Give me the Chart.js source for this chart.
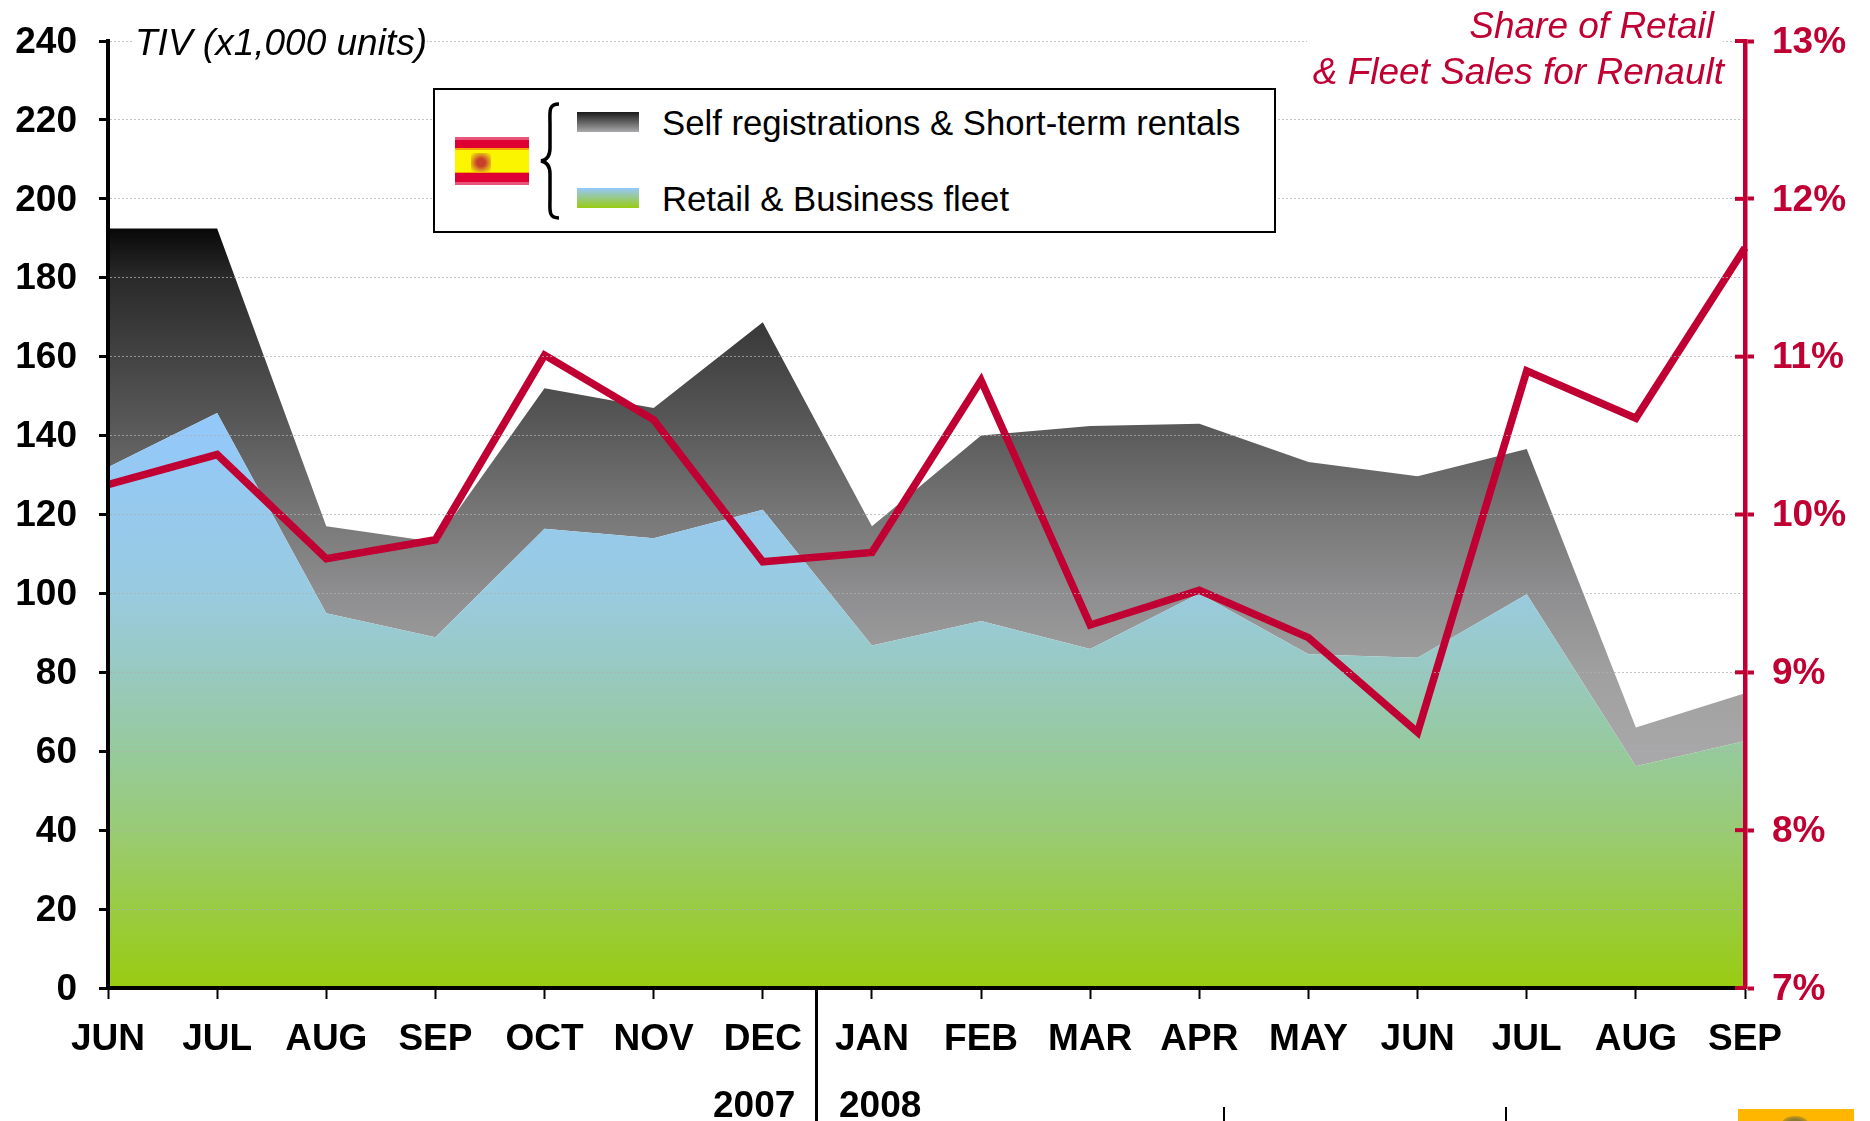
<!DOCTYPE html>
<html><head><meta charset="utf-8">
<script src="https://cdn.jsdelivr.net/npm/chart.js@4/dist/chart.umd.min.js"></script>
<style>
html,body{margin:0;padding:0;background:#fff;width:1870px;height:1121px;overflow:hidden}
body{position:relative;font-family:"Liberation Sans",Arial,sans-serif}
canvas{position:absolute;left:0;top:0}
.a{position:absolute;white-space:nowrap;line-height:1}
</style></head><body>
<canvas id="c" width="1870" height="1121"></canvas>

<div class="a" style="left:133px;top:20px;width:294px;height:40px;background:#fff"></div>
<div class="a" style="left:135px;top:22px;font:italic 37px 'Liberation Sans'">TIV (x1,000 units)</div>

<div class="a" style="left:1307px;top:0;width:416px;height:92px;background:#fff"></div>
<div class="a" style="right:156px;top:5px;font:italic 37px 'Liberation Sans';color:#C00033">Share of Retail</div>
<div class="a" style="right:146px;top:51px;font:italic 37px 'Liberation Sans';color:#C00033">&amp; Fleet Sales for Renault</div>

<div class="a" style="left:433px;top:88px;width:843px;height:145px;box-sizing:border-box;border:2px solid #000;background:#fff"></div>
<div class="a" style="left:455px;top:137px;width:74px;height:48px;background:linear-gradient(#e8547a 0 3px,#de0033 3px 11px,#f5a300 11px 13px,#fbf500 13px 35px,#f5a300 35px 36px,#de0033 36px 45px,#e8547a 45px)"></div>
<div class="a" style="left:471px;top:153px;width:20px;height:19px;background:radial-gradient(ellipse at center,#c9402a 0 30%,#dd9a20 60%,#fbf500 95%)"></div>
<svg class="a" style="left:538px;top:102px" width="24" height="118" viewBox="0 0 24 118"><path d="M21 2 C10 2 12 10 12 22 L12 46 C12 54 9 58 3 59 C9 60 12 64 12 72 L12 96 C12 108 10 116 21 116" fill="none" stroke="#000" stroke-width="3.5"/></svg>
<div class="a" style="left:577px;top:112px;width:62px;height:20px;background:linear-gradient(#1a1a1a,#a9a9ab)"></div>
<div class="a" style="left:577px;top:188px;width:62px;height:20px;background:linear-gradient(#96c8fb,#99cc10)"></div>
<div class="a" style="left:662px;top:104px;font:34.7px 'Liberation Sans';color:#000">Self registrations &amp; Short-term rentals</div>
<div class="a" style="left:662px;top:180px;font:34.7px 'Liberation Sans';color:#000">Retail &amp; Business fleet</div>

<div class="a" style="left:815px;top:988px;width:3px;height:133px;background:#000"></div>
<div class="a" style="left:713px;top:1084px;font:bold 37px 'Liberation Sans'">2007</div>
<div class="a" style="left:839px;top:1084px;font:bold 37px 'Liberation Sans'">2008</div>
<div class="a" style="left:1223px;top:1107px;width:2px;height:14px;background:#000"></div>
<div class="a" style="left:1505px;top:1107px;width:2px;height:14px;background:#000"></div>
<div class="a" style="left:1738px;top:1109px;width:116px;height:12px;background:#ffb600;overflow:hidden"><div style="position:absolute;left:44px;top:7px;width:26px;height:14px;border-radius:50%;background:radial-gradient(ellipse at center,#8a7a30 0 35%,#ffb600 100%)"></div></div>

<script>
const months = ['JUN','JUL','AUG','SEP','OCT','NOV','DEC','JAN','FEB','MAR','APR','MAY','JUN','JUL','AUG','SEP'];
const retailBusiness = [132,145.7,95,88.9,116.4,114,121.2,86.8,93,85.9,100,84.6,83.7,99.8,56.2,62.6];
const selfRegistrations = [60.5,46.8,22,24.1,35.6,33,47.5,30.2,47,56.5,43,48.7,46,36.8,9.8,12.1];
const renaultShare = [10.19,10.38,9.72,9.84,11.01,10.6,9.7,9.76,10.85,9.3,9.52,9.22,8.62,10.91,10.61,11.69];

const CRIMSON = '#C00033';
const retailStops = [[146,'#93c8fc'],[100,'#99cbe0'],[80,'#98c9c0'],[60,'#96ca9c'],[40,'#99cb75'],[0,'#99cc10']];
const selfStops = [[192.5,'#080808'],[180,'#2a2a2a'],[140,'#5c5c5c'],[120,'#777777'],[100,'#8e8e90'],[80,'#a0a0a0'],[56,'#a9a9ab']];

function grad(stops){
  return function(ctx){
    const ch = ctx.chart;
    if(!ch.chartArea) return '#999';
    const y = ch.scales.y;
    const y0 = y.getPixelForValue(stops[0][0]), y1 = y.getPixelForValue(stops[stops.length-1][0]);
    const g = ch.ctx.createLinearGradient(0,y0,0,y1);
    stops.forEach(s=>g.addColorStop((y.getPixelForValue(s[0])-y0)/(y1-y0),s[1]));
    return g;
  };
}
const innerTicks = {
  id:'innerTicks',
  afterDraw(ch){
    const s = ch.scales.y1, c = ch.ctx;
    c.save(); c.strokeStyle = CRIMSON; c.lineWidth = 4;
    s.ticks.forEach(t=>{
      const p = s.getPixelForValue(t.value);
      c.beginPath(); c.moveTo(s.left-10,p); c.lineTo(s.left,p); c.stroke();
    });
    c.restore();
  }
};
new Chart(document.getElementById('c'),{
  type:'line',
  plugins:[innerTicks],
  data:{labels:months,datasets:[
    {label:'Retail & Business fleet',data:retailBusiness,yAxisID:'y',fill:'origin',borderWidth:0,pointRadius:0,tension:0,order:1,backgroundColor:grad(retailStops)},
    {label:'Self registrations & Short-term rentals',data:selfRegistrations,yAxisID:'y',fill:'-1',borderWidth:0,pointRadius:0,tension:0,order:2,backgroundColor:grad(selfStops)},
    {label:'Share of Retail & Fleet Sales for Renault',data:renaultShare,yAxisID:'y1',fill:false,borderColor:CRIMSON,borderWidth:7.5,pointRadius:0,tension:0,order:0,borderJoinStyle:'miter',borderCapStyle:'butt'}
  ]},
  options:{
    responsive:false,animation:false,devicePixelRatio:1,
    layout:{autoPadding:false,padding:{top:41,left:0,right:0,bottom:0}},
    plugins:{legend:{display:false},tooltip:{enabled:false},title:{display:false}},
    scales:{
      x:{
        offset:false,
        afterFit(s){s.height=133;s.paddingLeft=0;s.paddingRight=0;},
        grid:{drawOnChartArea:false,tickLength:11,tickWidth:2,tickColor:'#000',z:1},
        border:{color:'#000',width:4,z:2},
        ticks:{autoSkip:false,maxRotation:0,minRotation:0,color:'#000',padding:19,font:{family:'Liberation Sans',size:37,weight:'bold'}}
      },
      y:{
        stacked:true,min:0,max:240,
        afterFit(s){s.width=108;s.paddingTop=0;s.paddingBottom=0;},
        grid:{color:'rgba(175,175,175,0.75)',lineWidth:1,tickLength:9,tickWidth:3,tickColor:'#000',z:1},
        border:{color:'#000',width:4,z:2,dash:[2,2]},
        ticks:{stepSize:20,color:'#000',padding:22,labelOffset:1.5,font:{family:'Liberation Sans',size:37,weight:'bold'}}
      },
      y1:{
        position:'right',min:7,max:13,
        afterFit(s){s.width=125;s.paddingTop=0;s.paddingBottom=0;},
        grid:{drawOnChartArea:false,tickLength:9,tickWidth:4,tickColor:CRIMSON,z:3},
        border:{color:CRIMSON,width:4.5,z:3},
        ticks:{stepSize:1,color:CRIMSON,padding:18,labelOffset:1.5,callback:v=>v+'%',font:{family:'Liberation Sans',size:37,weight:'bold'}}
      }
    }
  }
});
</script>
</body></html>
